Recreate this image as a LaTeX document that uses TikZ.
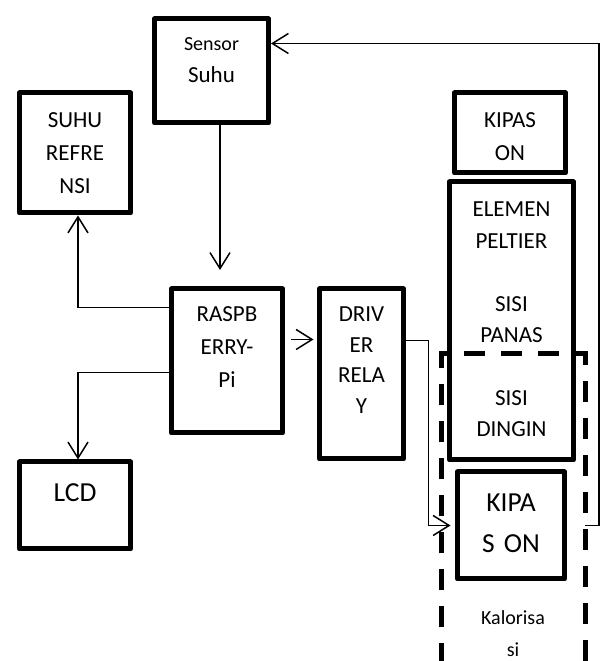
\documentclass[tikz,border=0pt]{standalone}
\usepackage{fontspec}
\setmainfont{Carlito}
\usetikzlibrary{arrows.meta,positioning}
\tikzset{
  blk/.style={draw,line width=5pt,line join=round,align=center,inner sep=0pt,anchor=north,
    font=\fontsize{23}{33}\selectfont,text height=34pt},
  bigblk/.style={blk,font=\fontsize{27.5}{41}\selectfont,text height=39.4pt},
  arr/.style={-{Straight Barb[length=16pt,width=20pt]},line width=1.5pt},
  dashln/.style={line width=5pt,dash pattern=on 21pt off 16pt},
  lbl/.style={font=\fontsize{20}{32}\selectfont,align=center,inner sep=0pt},
}
\begin{document}
\begin{tikzpicture}[x=1pt,y=1pt]
  \useasboundingbox (0,0) rectangle (601,661);
  % blocks
  \node[blk,text width=114pt,text height=32pt,text depth=72pt,font=\fontsize{23}{32}\selectfont] (sensor) at (211.5,644.5) {{\fontsize{20}{32}\selectfont Sensor}\\Suhu};
  \node[blk,text width=111pt,text height=35pt,text depth=85pt] (ref) at (75,570.5) {SUHU\\REFRE\\NSI};
  \node[blk,text width=111pt,text height=33pt,text depth=111pt] (rasp) at (227,374.5) {RASPB\\ERRY-\\Pi};
  \node[blk,text width=84pt,text height=33pt,text depth=137pt,font=\fontsize{23}{30.5}\selectfont] (drv) at (361.5,374.5) {DRIV\\ER\\RELA\\Y};
  \node[bigblk,text width=111pt,text depth=47.6pt] (lcd) at (75,201.5) {LCD};
  \node[blk,text width=111pt,text height=34.4pt,text depth=45.6pt] (kipas) at (510,570.5) {KIPAS\\ON};
  \node[blk,text width=124pt,text height=35pt,text depth=243pt,font=\fontsize{23}{31.4}\selectfont] (peltier) at (511.5,481.5) {ELEMEN\\PELTIER\\[31.4pt]SISI\\PANAS\\[31.4pt]SISI\\DINGIN};
  \node[bigblk,text width=107pt,text depth=67.6pt] (kipasb) at (511,191.5) {KIPA\\S ON};
  % kalorisasi frame
  \node[minimum width=143pt,minimum height=347pt,anchor=north,inner sep=0pt] (kal) at (513.5,307) {};
  \draw[dashln] (kal.south west) -- (kal.north west) -- (kal.north east) -- (kal.south east);
  \node[lbl,text width=80pt,anchor=base] (kaltxt) at (513,36.6) {Kalorisa\\si};
  % connectors
  \draw[arr] ([xshift=8.5pt]sensor.south) -- ([xshift=-7pt,yshift=16.5pt]rasp.north);
  \draw[arr] ([yshift=53.5pt]rasp.west) -| ([xshift=3pt]ref.south);
  \draw[arr] ([yshift=-11.5pt]rasp.west) -| ([xshift=3pt]lcd.north);
  \coordinate (rd) at ([yshift=21.5pt]rasp.east);
  \draw[arr,shorten <=5.5pt,shorten >=3.5pt] (rd) -- (rd -| drv.west);
  \draw[arr,shorten >=4.5pt] ([yshift=33.5pt]drv.east) -- ++(22.5,0) |- (kipasb.west);
  \draw[arr] (kal.east |- kipasb.west) -- ++(14,0) |- ([yshift=27.5pt]sensor.east);
\end{tikzpicture}
\end{document}
